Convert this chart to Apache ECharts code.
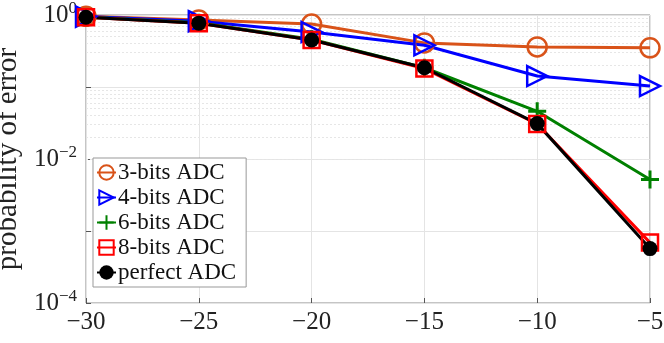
<!DOCTYPE html>
<html><head><meta charset="utf-8">
<script src="https://cdn.jsdelivr.net/npm/echarts@6/dist/echarts.min.js"></script>
<style>html,body{margin:0;padding:0;background:#fff}#c{width:664px;height:343px}</style>
</head><body><div id="c"></div>
<script>
const snr = [-30, -25, -20, -15, -10, -5];
const bits3 = [0.96, 0.85, 0.75, 0.41, 0.36, 0.35];
const bits4 = [0.95, 0.82, 0.58, 0.38, 0.142, 0.103];
const bits6 = [0.94, 0.78, 0.46, 0.185, 0.046, 0.0052];
const bits8 = [0.93, 0.77, 0.45, 0.18, 0.0306, 0.00069];
const perfect = [0.93, 0.77, 0.45, 0.185, 0.031, 0.00057];
const seriesNames = ['3-bits ADC', '4-bits ADC', '6-bits ADC', '8-bits ADC', 'perfect ADC'];
const yLabel = 'probability of error';
const xTicks = [-30, -25, -20, -15, -10, -5];

const FONT = 'Liberation Serif';
const minorVals = [];
for (let e = -4; e < 0; e++) for (let m = 2; m <= 9; m++) minorVals.push(m * Math.pow(10, e));

function pair(arr) { return snr.map((x, i) => [x, arr[i]]); }

const chart = echarts.init(document.getElementById('c'), null, {renderer: 'canvas'});
const base = {type: 'line', showAllSymbol: true, z: 3};
chart.setOption({
  animation: false,
  grid: {left: 86, right: 14, top: 15, bottom: 40, containLabel: false, outerBoundsMode: 'none',
    show: true, borderColor: '#8a8a8a', borderWidth: 1, backgroundColor: '#fff'},
  xAxis: {
    type: 'value', min: -30, max: -5, interval: 5,
    axisLine: {show: false},
    axisTick: {show: true, inside: true, length: 5, lineStyle: {color: '#555'}},
    axisLabel: {fontFamily: FONT, fontSize: 25, color: '#222', margin: 7,
      formatter: v => xTicks.includes(v) ? String(v).replace('-', '\u2212') : ''},
    splitLine: {show: true, lineStyle: {color: '#e4e4e4', width: 1}}
  },
  yAxis: {
    type: 'log', logBase: 10, min: 1e-4, max: 1,
    name: yLabel, nameLocation: 'middle', nameGap: 52, nameRotate: 90,
    nameTextStyle: {fontFamily: FONT, fontSize: 29, color: '#222'},
    axisLine: {show: false},
    axisTick: {show: true, inside: true, length: 5, lineStyle: {color: '#555'}},
    axisLabel: {
      margin: 9, color: '#222',
      formatter: function (v) {
        const e = Math.round(Math.log10(v));
        if (e % 2 !== 0) return '';
        return '{b|10}{s|' + (e === 0 ? '0' : '\u2212' + (-e)) + '}';
      },
      rich: {
        b: {fontFamily: FONT, fontSize: 25, color: '#222'},
        s: {fontFamily: FONT, fontSize: 17, color: '#222', verticalAlign: 'bottom', padding: [0, 0, 13, 0]}
      }
    },
    splitLine: {show: true, lineStyle: {color: '#e4e4e4', width: 1}}
  },
  legend: {
    orient: 'vertical', left: 93, top: 158, padding: [3, 10, 3, 3], itemGap: 2,
    backgroundColor: '#fff', borderColor: '#999', borderWidth: 1,
    itemWidth: 19, itemHeight: 18,
    textStyle: {fontFamily: FONT, fontSize: 23, color: '#111', padding: [0, 0, 0, -3]},
    data: seriesNames
  },
  series: [
    Object.assign({}, base, {name: seriesNames[0], data: pair(bits3), symbol: 'circle', symbolSize: 19,
      lineStyle: {color: '#D95319', width: 3}, itemStyle: {color: 'rgba(0,0,0,0)', borderColor: '#D95319', borderWidth: 2.5},
      markLine: {silent: true, symbol: ['none', 'none'], label: {show: false}, z: 1,
        lineStyle: {color: '#e6e6e6', width: 1, type: [2, 2]},
        data: minorVals.map(v => ({yAxis: v}))}}),
    Object.assign({}, base, {name: seriesNames[1], data: pair(bits4), symbol: 'path://M-1,-1L1,0L-1,1Z', symbolSize: [20, 20],
      lineStyle: {color: '#0000FF', width: 3}, itemStyle: {color: 'rgba(0,0,0,0)', borderColor: '#0000FF', borderWidth: 2.5}}),
    Object.assign({}, base, {name: seriesNames[2], data: pair(bits6), symbol: 'path://M0,-1L0,1M-1,0L1,0', symbolSize: 18,
      lineStyle: {color: '#008000', width: 3}, itemStyle: {color: 'rgba(0,0,0,0)', borderColor: '#008000', borderWidth: 3}}),
    Object.assign({}, base, {name: seriesNames[3], data: pair(bits8), symbol: 'rect', symbolSize: 16,
      lineStyle: {color: '#FF0000', width: 3}, itemStyle: {color: 'rgba(0,0,0,0)', borderColor: '#FF0000', borderWidth: 2.5}}),
    Object.assign({}, base, {name: seriesNames[4], data: pair(perfect), symbol: 'circle', symbolSize: 15,
      lineStyle: {color: '#000000', width: 3}, itemStyle: {color: '#000000', borderColor: '#000', borderWidth: 0}})
  ]
});
</script></body></html>
